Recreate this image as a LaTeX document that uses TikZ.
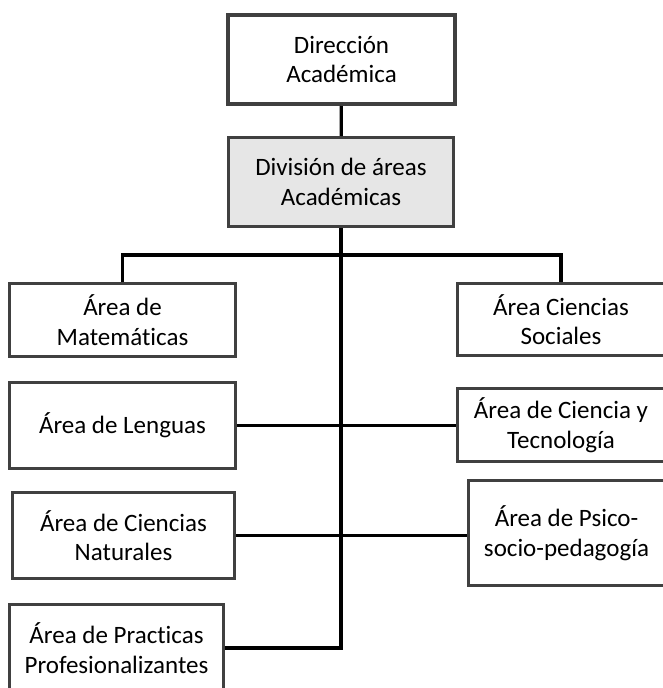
\documentclass[tikz,border=0pt]{standalone}
\usepackage{fontspec}
\setmainfont[Ligatures=NoCommon]{Carlito}
\definecolor{orgline}{HTML}{404040}
\definecolor{orgfill}{HTML}{E6E6E6}
\usetikzlibrary{positioning}

\begin{document}
\begin{tikzpicture}[x=1pt, y=-1pt,
  area/.style={draw=orgline, line width=3pt, fill=white, align=center,
    inner sep=0pt, font=\fontsize{25}{29.5}\selectfont},
  link/.style={line width=3.2pt, black}]
\useasboundingbox (0,0) rectangle (662,688);
\node[area, line width=4pt, minimum width=227pt, minimum height=89pt] (dir)
  at (341.5,59.5) {Dirección\\Académica};
\node[area, fill=orgfill, minimum width=225pt, minimum height=89pt] (div)
  at (341,182) {División de áreas\\Académicas};
\node[area, minimum width=226pt, minimum height=73pt] (mat)
  at (122.5,320) {Área de\\Matemáticas};
\node[area, minimum width=207pt, minimum height=72pt] (soc)
  at (561,319.5) {Área Ciencias\\Sociales};
\node[area, minimum width=226pt, minimum height=86pt] (len)
  at (122.5,425.5) {Área de Lenguas};
\node[area, minimum width=207pt, minimum height=73pt] (tec)
  at (561,425) {Área de Ciencia y\\Tecnología};
\node[area, minimum width=222pt, minimum height=86pt] (nat)
  at (123.5,535.5) {Área de Ciencias\\Naturales};
\node[area, minimum width=196pt, minimum height=105pt] (psi)
  at (566.5,533) {Área de Psico-\\socio-pedagogía};
\node[area, minimum width=214pt, minimum height=87pt] (pra)
  at (116.5,648) {Área de Practicas\\Profesionalizantes};
\coordinate (bar) at (341,255);
\draw[link] (dir) -- (div);
\draw[link] (div.south) |- (pra.east);
\draw[link] (mat.north) |- (bar) -| (soc.north);
\draw[link] (len.east) -- (len.east -| tec.west);
\draw[link] (nat.east) -- (nat.east -| psi.west);
\end{tikzpicture}
\end{document}
